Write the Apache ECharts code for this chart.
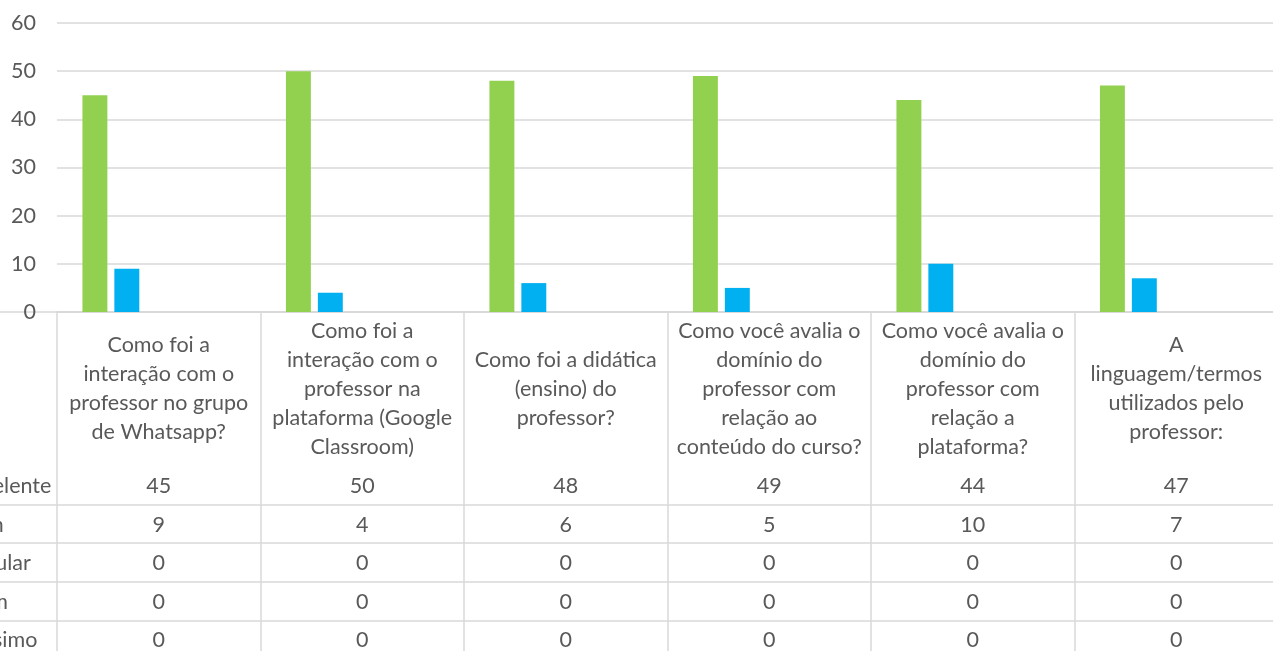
<!DOCTYPE html>
<html>
<head>
<meta charset="utf-8">
<script src="https://cdn.jsdelivr.net/npm/echarts@6/dist/echarts.min.js"></script>
<style>
  html, body { margin: 0; padding: 0; background: #fff; }
  #chart { width: 1273px; height: 651px; }
</style>
</head>
<body>
<div id="chart"></div>
<script>
// perguntas (quebras de linha como no gráfico original)
const categories = [
    'Como foi a\ninteração com o\nprofessor no grupo\nde Whatsapp?',
    'Como foi a\ninteração com o\nprofessor na\nplataforma (Google\nClassroom)',
    'Como foi a didática\n(ensino) do\nprofessor?',
    'Como você avalia o\ndomínio do\nprofessor com\nrelação ao\nconteúdo do curso?',
    'Como você avalia o\ndomínio do\nprofessor com\nrelação a\nplataforma?',
    'A\nlinguagem/termos\nutilizados pelo\nprofessor:'
];

const seriesNames = ['Excelente', 'Bom', 'Regular', 'Ruim', 'Péssimo'];
const excelente = [45, 50, 48, 49, 44, 47];
const bom = [9, 4, 6, 5, 10, 7];
const regular = [0, 0, 0, 0, 0, 0];
const ruim = [0, 0, 0, 0, 0, 0];
const pessimo = [0, 0, 0, 0, 0, 0];
const seriesColors = ['#92D050', '#00B0F0', '#FFC000', '#ED7D31', '#C00000'];

const yTicks = [0, 10, 20, 30, 40, 50, 60];

const rows = [excelente, bom, regular, ruim, pessimo];
const FONT = 'Lato';
const FS = 21.5;
const TEXT = '#595959';
const LINE = '#d9d9d9';

const chart = echarts.init(document.getElementById('chart'));

const headerHeight = 154;
const rowHeight = 38.6;

let xAxes = [{
    type: 'category',
    gridIndex: 0,
    data: categories,
    axisLine: { lineStyle: { color: LINE, width: 1.5 } },
    axisTick: { show: true, interval: 0, length: 360, lineStyle: { color: LINE, width: 1.5 } },
    axisLabel: {
        interval: 0,
        color: TEXT,
        fontFamily: FONT,
        fontSize: FS,
        lineHeight: 29,
        verticalAlign: 'middle',
        margin: 77
    }
}];

// uma linha por série na tabela de dados
rows.forEach((vals, i) => {
    xAxes.push({
        type: 'category',
        gridIndex: 0,
        position: 'bottom',
        offset: headerHeight + rowHeight * i + 20,
        data: categories,
        name: seriesNames[i],
        nameLocation: 'start',
        nameGap: 97,
        nameTextStyle: {
            color: TEXT, fontFamily: FONT, fontSize: FS, align: 'left'
        },
        axisLine: { show: false },
        axisTick: { show: false },
        axisLabel: {
            interval: 0,
            color: TEXT,
            fontFamily: FONT,
            fontSize: FS,
            verticalAlign: 'middle',
            margin: 0,
            formatter: (v, idx) => String(vals[idx])
        }
    });
    // linha horizontal da tabela, largura total
    xAxes.push({
        type: 'value',
        gridIndex: 1,
        position: 'bottom',
        offset: headerHeight + rowHeight * i,
        axisLine: { show: true, lineStyle: { color: LINE, width: 1.5 } },
        axisTick: { show: false },
        axisLabel: { show: false },
        splitLine: { show: false }
    });
});

chart.setOption({
    animation: false,
    backgroundColor: '#fff',
    grid: [
        { left: 57, right: -5, top: 23, bottom: 339, containLabel: false, outerBoundsMode: 'none' },
        { left: 0, right: -5, top: 23, bottom: 339, containLabel: false, outerBoundsMode: 'none' }
    ],
    xAxis: xAxes,
    yAxis: [{
        type: 'value',
        gridIndex: 0,
        min: yTicks[0],
        max: yTicks[yTicks.length - 1],
        interval: 10,
        axisLine: { show: false },
        axisTick: { show: false },
        axisLabel: { color: TEXT, fontFamily: FONT, fontSize: FS, margin: 21 },
        splitLine: { lineStyle: { color: LINE, width: 1.5 } }
    }, {
        type: 'value',
        gridIndex: 1,
        show: false
    }],
    series: rows.map((vals, i) => ({
        name: seriesNames[i],
        type: 'bar',
        xAxisIndex: 0,
        yAxisIndex: 0,
        data: vals,
        barCategoryGap: '25%',
        barGap: '28%',
        itemStyle: { color: seriesColors[i] }
    }))
});
</script>
</body>
</html>
